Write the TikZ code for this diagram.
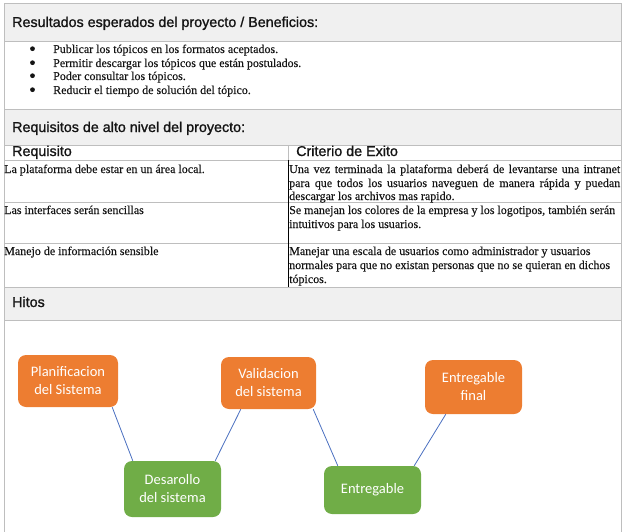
\documentclass[tikz,border=0pt]{standalone}
\usepackage{fontspec}
\newfontfamily\arialf[FakeBold=1.2]{Liberation Sans}
\newfontfamily\timesf[FakeBold=0.25]{Liberation Serif}
\newfontfamily\calf{Carlito}
\definecolor{hdrgray}{HTML}{F0F0F0}
\definecolor{rulegray}{HTML}{BEBEBE}
\definecolor{msorange}{HTML}{ED7D31}
\definecolor{msgreen}{HTML}{70AD47}
\definecolor{linkblue}{HTML}{4A6FC0}
\definecolor{txt}{HTML}{141414}
\tikzset{
  hdr/.style={anchor=base west, inner sep=0pt, text=txt, font=\arialf\fontsize{14.3}{17}\selectfont},
  body/.style={anchor=base west, inner sep=0pt, text=txt, font=\timesf\fontsize{12}{14}\selectfont},
  rule/.style={draw=rulegray, line width=0.9pt},
  band/.style={fill=hdrgray, draw=none},
  bulletdot/.style={fill=txt, draw=none},
  ms/.style={rounded corners=8pt, text=white, align=center, inner sep=0pt,
    font=\calf\fontsize{14.5}{18}\selectfont},
  msorangebox/.style={ms, fill=msorange},
  msgreenbox/.style={ms, fill=msgreen},
  link/.style={draw=linkblue, line width=0.8pt}
}
\begin{document}
\begin{tikzpicture}[x=1pt,y=-1pt]
\useasboundingbox (0,0) rectangle (626,532);
% bands
\fill[band] (4,3) rectangle (621,41);
\fill[band] (4,109) rectangle (621,145);
\fill[band] (4,287) rectangle (621,320);
% frame and rules
\draw[rule] (4,532) -- (4,3) -- (621,3) -- (621,532);
\foreach \yy in {41,109,145,160,202,243,287,320}
  \draw[rule] (4,\yy) -- (621,\yy);
\draw[rule] (288,145) -- (288,160);
\draw[black, line width=0.9pt] (288,160) -- (288,287);
% header 1
\node[hdr] (h1) at (12,27) {Resultados esperados del proyecto / Beneficios:};
\foreach \yy in {53,67,80,94}
  \fill[bulletdot] (32.5,\yy-4.3) circle (2.4pt);
\node[body] (b1) at (53,53) {Publicar los tópicos en los formatos aceptados.};
\node[body] (b2) at (53,67) {Permitir descargar los tópicos que están postulados.};
\node[body] (b3) at (53,80) {Poder consultar los tópicos.};
\node[body] (b4) at (53,94) {Reducir el tiempo de solución del tópico.};
% header 2
\node[hdr] (h2) at (12,132) {Requisitos de alto nivel del proyecto:};
\node[hdr] (c1) at (12,156) {Requisito};
\node[hdr] (c2) at (296,156) {Criterio de Exito};
% rows
\node[body] (r1a) at (4,173) {La plataforma debe estar en un área local.};
\node[body] (r1b) at (289,173) {\makebox[331pt][s]{Una vez terminada la plataforma deberá de levantarse una intranet}};
\node[body] (r1c) at (289,187) {\makebox[331pt][s]{para que todos los usuarios naveguen de manera rápida y puedan}};
\node[body] (r1d) at (289,200) {descargar los archivos mas rapido.};
\node[body] (r2a) at (4,214) {Las interfaces serán sencillas};
\node[body] (r2b) at (289,214) {Se manejan los colores de la empresa y los logotipos, también serán};
\node[body] (r2c) at (289,228) {intuitivos para los usuarios.};
\node[body] (r3a) at (4,255) {Manejo de información sensible};
\node[body] (r3b) at (289,255) {Manejar una escala de usuarios como administrador y usuarios};
\node[body] (r3c) at (289,269) {normales para que no existan personas que no se quieran en dichos};
\node[body] (r3d) at (289,283) {tópicos.};
% hitos
\node[hdr] (h3) at (12,307) {Hitos};
% milestones
\node[msorangebox, minimum width=100pt, minimum height=52pt] (plan) at (68,381) {Planificacion\\del Sistema};
\node[msgreenbox, minimum width=97pt, minimum height=56pt] (des) at (172.5,489) {Desarollo\\del sistema};
\node[msorangebox, minimum width=95pt, minimum height=52pt] (val) at (268.5,383) {Validacion\\del sistema};
\node[msgreenbox, minimum width=97pt, minimum height=48pt] (ent) at (372.5,490) {Entregable};
\node[msorangebox, minimum width=97pt, minimum height=54pt] (fin) at (473.5,387) {Entregable\\final};
% connectors
\draw[link] ([xshift=-6pt]plan.south east) -- ([xshift=9pt]des.north west);
\draw[link] ([xshift=20pt]val.south west) -- ([xshift=-6pt]des.north east);
\draw[link] ([xshift=-3pt]val.south east) -- ([xshift=14pt]ent.north west);
\draw[link] ([xshift=-7pt]ent.north east) -- ([xshift=21pt]fin.south west);
\end{tikzpicture}
\end{document}
